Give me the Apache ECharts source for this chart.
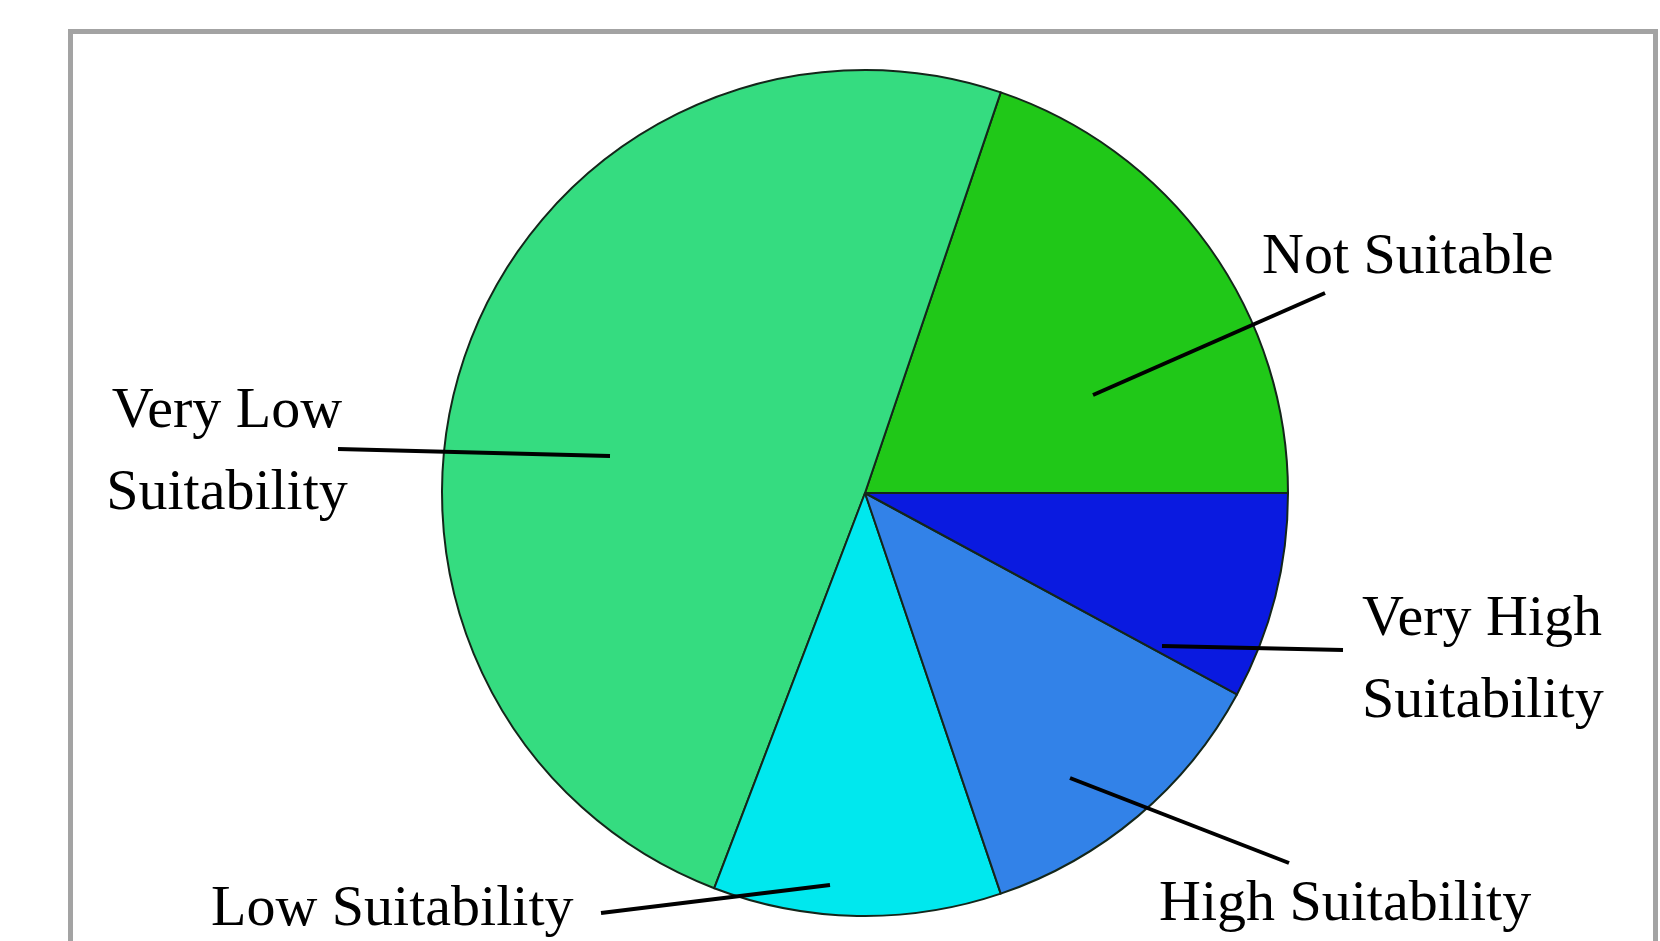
<!DOCTYPE html>
<html>
<head>
<meta charset="utf-8">
<script src="https://cdn.jsdelivr.net/npm/echarts@6/dist/echarts.min.js"></script>
<style>
html,body{margin:0;padding:0;background:#fff;}
#chart{width:1660px;height:941px;}
</style>
</head>
<body>
<div id="chart"></div>
<script>
// ---- data ----
const categories = ['Not Suitable', 'Very Low\nSuitability', 'Low Suitability', 'High Suitability', 'Very High\nSuitability'];
const values = [19.8, 49.4, 11.0, 11.9, 7.9];
const colors = ['#20c818', '#35dc80', '#00e8ee', '#3282e8', '#0a1ae0'];

// ---- label annotation layout (styling, in px) ----
const labelStyle = [
  { x: 1262, y: 258, align: 'left',   line: [[1093, 395], [1325, 293]] },
  { x: 227,  y: 453, align: 'center', line: [[610, 456], [338, 449]] },
  { x: 211,  y: 910, align: 'left',   line: [[830, 885], [601, 913]] },
  { x: 1159, y: 905, align: 'left',   line: [[1070, 778], [1289, 863]] },
  { x: 1362, y: 661, align: 'left',   line: [[1162, 646], [1343, 650]] }
];

const chart = echarts.init(document.getElementById('chart'), null, { renderer: 'canvas' });

const pieData = categories.map((c, i) => ({
  name: c,
  value: values[i],
  itemStyle: { color: colors[i] }
}));

const common = {
  type: 'pie',
  center: [865, 493],
  radius: [0, 423],
  startAngle: 0,
  clockwise: false,
  avoidLabelOverlap: false,
  silent: true
};

const option = {
  backgroundColor: '#ffffff',
  animation: false,
  graphic: [{
    type: 'rect',
    shape: { x: 70.5, y: 31.5, width: 1585, height: 1000 },
    style: { fill: 'none', stroke: '#a3a3a3', lineWidth: 5 },
    z: -10
  }],
  series: [
    Object.assign({}, common, {
      z: 2,
      itemStyle: { borderColor: '#14261a', borderWidth: 2 },
      label: { show: false },
      labelLine: { show: false },
      data: pieData
    }),
    Object.assign({}, common, {
      z: 5,
      itemStyle: { color: 'rgba(0,0,0,0)', borderWidth: 0 },
      label: {
        show: true,
        position: 'outside',
        fontFamily: 'Liberation Serif',
        fontSize: 58,
        lineHeight: 82,
        color: '#000',
        formatter: p => p.name
      },
      labelLine: {
        show: true,
        showAbove: true,
        length: 10,
        length2: 10,
        lineStyle: { color: '#000', width: 4 }
      },
      labelLayout: function (params) {
        const s = labelStyle[params.dataIndex];
        return {
          x: s.x,
          y: s.y,
          align: s.align,
          verticalAlign: 'middle',
          labelLinePoints: s.line
        };
      },
      data: categories.map((c, i) => ({ name: c, value: values[i] }))
    })
  ]
};
chart.setOption(option);
</script>
</body>
</html>
